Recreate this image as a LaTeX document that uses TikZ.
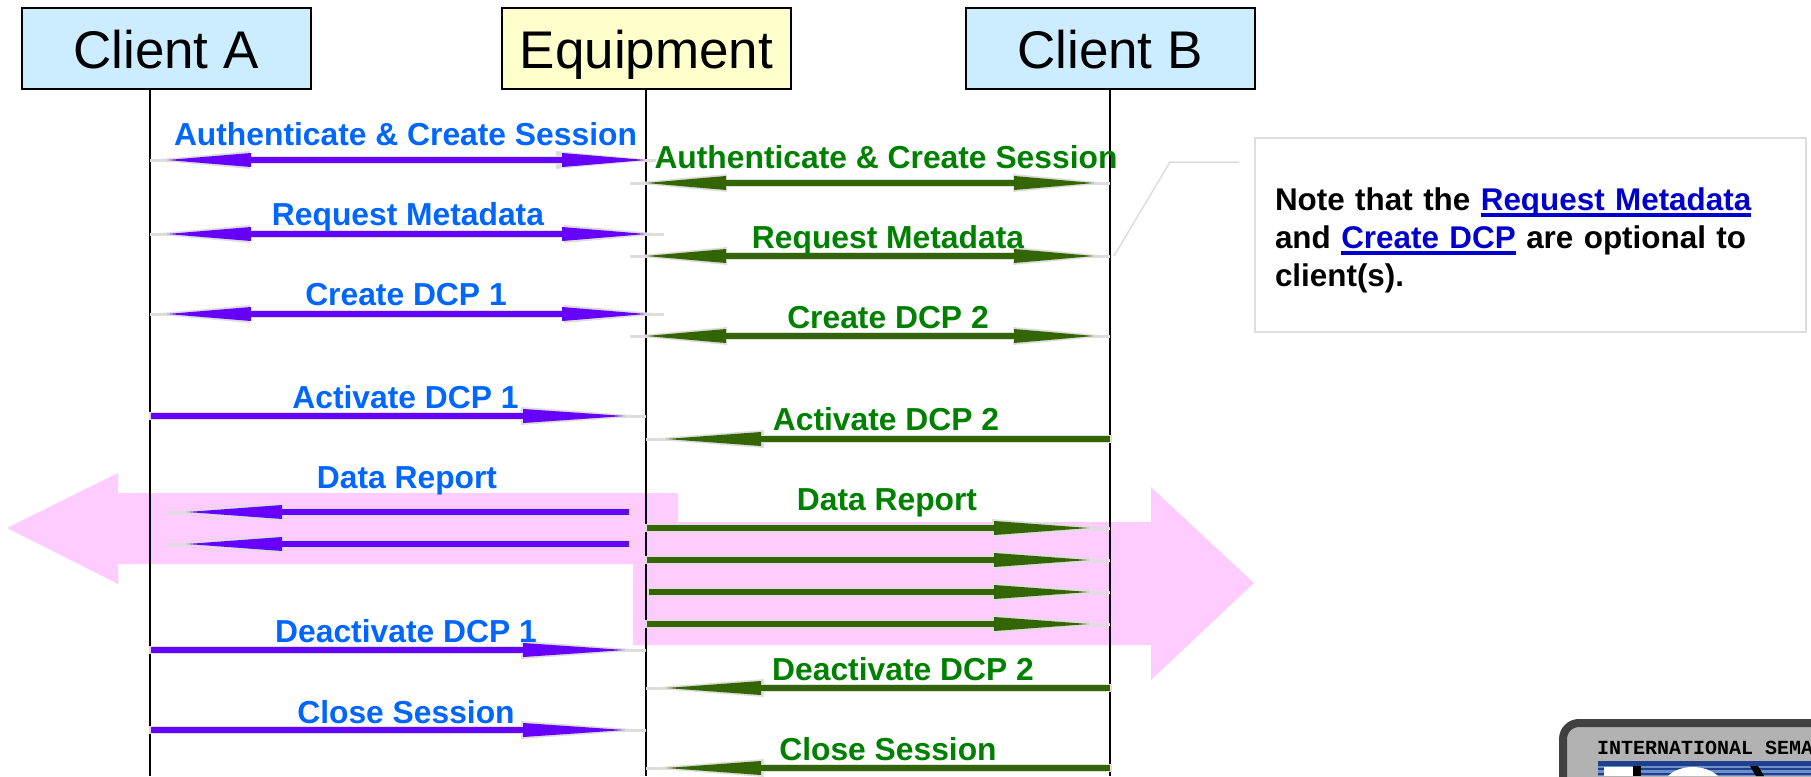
\documentclass[tikz,border=0pt]{standalone}
\usepackage{fontspec}
\setmainfont{Liberation Sans}
\newfontfamily\logofont{Liberation Mono}
\usetikzlibrary{arrows.meta}
\definecolor{clientblue}{HTML}{CCECFF}
\definecolor{equipyellow}{HTML}{FFFFCC}
\definecolor{bandpink}{HTML}{FFCCFF}
\definecolor{haloGray}{HTML}{DDDDDD}
\definecolor{msgA}{HTML}{6600FF}
\definecolor{msgB}{HTML}{336600}
\definecolor{textA}{HTML}{0066FF}
\definecolor{textB}{HTML}{008000}
\definecolor{linkblue}{HTML}{0000CC}
\definecolor{logoNavy}{HTML}{1F3F8F}
\definecolor{logoStripe}{HTML}{6F8FC8}
\newcommand{\linktext}[1]{\textcolor{linkblue}{\setbox0\hbox{#1}\rlap{\rule[-6.5pt]{\wd0}{3.5pt}}\box0}}
\tikzset{
  actor/.style={draw, line width=2pt, minimum width=289pt, minimum height=81pt, inner sep=0pt, text height=45pt, text depth=6pt, font=\fontsize{53}{60}\selectfont},
  lifeline/.style={line width=1.5pt},
  halo/.style={draw=haloGray, line width=8.5pt},
  spike/.style={draw=haloGray, line width=3pt},
  msgline/.style={line width=5.5pt},
  pairout/.tip={Triangle[length=100pt, width=18pt, line width=0pt]},
  pairin/.tip={Triangle[length=84pt, width=14pt, line width=0pt]},
  greenout/.tip={Triangle[length=97pt, width=18pt, line width=0pt]},
  greenin/.tip={Triangle[length=80pt, width=14pt, line width=0pt]},
  oneout/.tip={Triangle[length=118pt, width=18pt, line width=0pt]},
  onein/.tip={Triangle[length=95pt, width=14pt, line width=0pt]},
  longout/.tip={Triangle[length=125pt, width=18pt, line width=0pt]},
  longin/.tip={Triangle[length=102pt, width=14pt, line width=0pt]},
  lblA/.style={anchor=base, inner sep=0pt, text=textA, font=\fontsize{31.8}{38}\selectfont\bfseries},
  lblB/.style={anchor=base, inner sep=0pt, text=textB, font=\fontsize{31.8}{38}\selectfont\bfseries},
  band/.style={fill=bandpink, draw=none},
}
\begin{document}
\begin{tikzpicture}[x=1pt, y=-1pt]
\useasboundingbox (0,0) rectangle (1811,776);

% the two wide pink arrows
\draw[band] (7,528)--(118,473)--(118,493)--(678,493)--(678,564)--(118,564)--(118,584)--cycle;
\draw[band] (633,522)--(1151,522)--(1151,487)--(1254,583)--(1151,680)--(1151,645)--(633,645)--cycle;

\node (ClientA)[actor, fill=clientblue] at (166,48.5) {Client A};
\node (Equip)[actor, fill=equipyellow] at (646.5,48.5) {Equipment};
\node (ClientB)[actor, fill=clientblue] at (1110,48.5) {Client B};

\coordinate (endA) at (150,776);
\coordinate (endE) at (646,776);
\coordinate (endB) at (1110,776);
\draw[lifeline] (ClientA.south -| endA)--(endA);
\draw[lifeline] (Equip.south -| endE)--(endE);
\draw[lifeline] (ClientB.south)--(endB);

% client A, both ways
\foreach \n/\xe/\y in {1/656/160,2/664/234,3/664/314}
{
	\coordinate (hA\n) at (150,\y);\coordinate (hE\n) at (\xe,\y);
	\coordinate (mA\n) at (167,\y);\coordinate (mE\n) at (646,\y);
	\draw[spike](hA\n)--(hE\n);
	\draw[halo, {pairout}-{pairout}](hA\n)--(hE\n);
	\draw[msgline, msgA, {pairin}-{pairin}](mA\n)--(mE\n);
}
% client B, both ways
\foreach \n/\y in {1/183,2/256,3/336}
{
	\coordinate (hF\n) at (630,\y);\coordinate (hB\n) at (1110,\y);
	\coordinate (mF\n) at (646,\y);\coordinate (mB\n) at (1094,\y);
	\draw[spike](hF\n)--(hB\n);
	\draw[halo, {greenout}-{greenout}](hF\n)--(hB\n);
	\draw[msgline, msgB, {greenin}-{greenin}](mF\n)--(mB\n);
}
% client A to equipment
\foreach \n/\y in {4/416,5/650,6/730}
{
	\coordinate (hA\n) at (149,\y);\coordinate (hE\n) at (646,\y);
	\coordinate (mA\n) at (151,\y);\coordinate (mE\n) at (625,\y);
	\draw[spike](hA\n)--(hE\n);
	\draw[halo, -{longout}](hA\n)--(hE\n);
	\draw[msgline, msgA, -{longin}](mA\n)--(mE\n);
}
% equipment to client B
\foreach \n/\y in {4/439,5/688,6/768}
{
	\coordinate (hB\n) at (1112,\y);\coordinate (hF\n) at (646,\y);
	\coordinate (mB\n) at (1110,\y);\coordinate (mF\n) at (666,\y);
	\draw[spike](hB\n)--(hF\n);
	\draw[halo, -{oneout}](hB\n)--(hF\n);
	\draw[msgline, msgB, -{onein}](mB\n)--(mF\n);
}
% data report, left
\foreach \n/\y in {7/512,8/544}
{
	\coordinate (hE\n) at (631,\y);\coordinate (hA\n) at (166,\y);
	\coordinate (mE\n) at (629,\y);\coordinate (mA\n) at (187,\y);
	\draw[spike](hE\n)--(hA\n);
	\draw[halo, -{oneout}](hE\n)--(hA\n);
	\draw[msgline, msgA, -{onein}](mE\n)--(mA\n);
}
% data report, right
\foreach \n/\xs/\y in {7/647/528,8/647/560,9/649/592,10/647/624}
{
	\coordinate (hF\n) at (\xs-2,\y);\coordinate (hB\n) at (1110,\y);
	\coordinate (mF\n) at (\xs,\y);\coordinate (mB\n) at (1089,\y);
	\draw[spike](hF\n)--(hB\n);
	\draw[halo, -{oneout}](hF\n)--(hB\n);
	\draw[msgline, msgB, -{onein}](mF\n)--(mB\n);
}

\foreach \n/\x/\y/\xtext in {a/405.5/145/Authenticate \& Create Session,b/408/225/Request Metadata,c/406/305/Create DCP 1,d/405.5/408/Activate DCP 1,e/407/488/Data Report,f/406/642/Deactivate DCP 1,g/406/723/Close Session}
{
	\node (lblA\n)[lblA] at (\x,\y){\xtext};
}
\foreach \n/\x/\y/\xtext in {a/886/168/Authenticate \& Create Session,b/888/248/Request Metadata,c/888/328/Create DCP 2,d/886/430/Activate DCP 2,e/887/510/Data Report,f/903/680/Deactivate DCP 2,g/888/760/Close Session}
{
	\node (lblB\n)[lblB] at (\x,\y){\xtext};
}

% note with its leader
\node (Note)[draw=haloGray, line width=2pt, fill=white, minimum width=551pt, minimum height=194pt, inner xsep=20.5pt, text width=510pt, align=left, font=\fontsize{31.4}{38}\selectfont\bfseries] at (1530,235)
{\rule{0pt}{33pt}Note that the \linktext{Request Metadata}\\and \linktext{Create DCP} are optional to\\client(s).};
\coordinate (noteBend) at (1170,162);
\coordinate (noteEnd) at (1239,162);
\coordinate (noteStart) at (1114,256);
\draw[draw=haloGray, line width=1.5pt] (noteStart)--(noteBend)--(noteEnd);

% logo in the corner, cut by the edge of the page
\begin{scope}
\clip (0,0) rectangle (1811,776);
\node (LogoPlate)[draw=black!75, line width=8pt, fill=black!30, rounded corners=16pt, minimum width=340pt, minimum height=120pt, anchor=north west] at (1559,719) {};
\fill[logoStripe] (1598,761) rectangle (1811,776);
\fill[logoNavy] (1598,761) rectangle (1811,766);
\foreach \y in {769,774}
{
	\fill[logoNavy] (1598,\y-1) rectangle (1811,\y+1);
}
\fill[white] (1604,767) rectangle (1636,776);
\fill[black] (1633,766) rectangle (1641,776);
\fill[white] (1668,776) .. controls (1680,764) and (1705,764) .. (1718,776) -- cycle;
\fill[black] (1750,766)--(1758,766)--(1764,776)--(1756,776)--cycle;
\node (LogoText)[anchor=base west, inner sep=0pt, font=\fontsize{20}{24}\selectfont\logofont\bfseries] at (1597,754) {INTERNATIONAL SEMA};
\end{scope}
\end{tikzpicture}
\end{document}
